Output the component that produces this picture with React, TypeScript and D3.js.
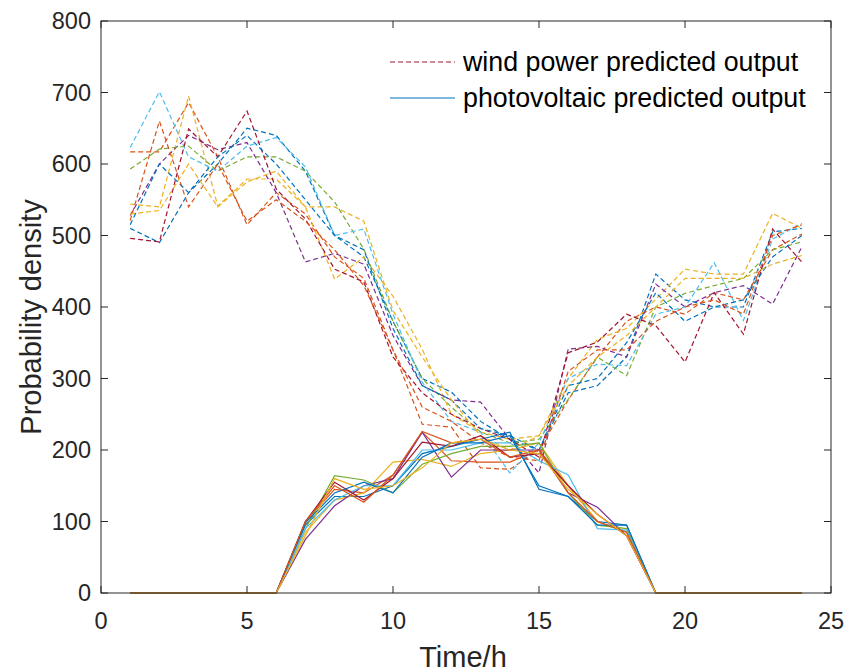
import React from "react";
import * as d3 from "d3";

const hours = d3.range(1, 25);

const colorOrder = ["#0072BD", "#D95319", "#EDB120", "#7E2F8E", "#77AC30", "#4DBEEE", "#A2142F"];

// wind power predicted output scenarios (t = 1..24)
const wind1 = [510, 490, 560, 600, 650, 640, 590, 500, 470, 380, 300, 281, 240, 215, 200, 280, 290, 330, 446, 410, 400, 400, 505, 510];
const wind2 = [617, 617, 686, 610, 515, 560, 530, 470, 440, 340, 236, 232, 175, 173, 200, 270, 330, 380, 400, 390, 420, 410, 480, 502];
const wind3 = [544, 540, 695, 541, 579, 579, 540, 439, 470, 415, 341, 250, 225, 215, 220, 300, 355, 370, 411, 453, 446, 446, 531, 510];
const wind4 = [528, 600, 640, 620, 630, 560, 463, 475, 460, 360, 290, 270, 267, 215, 168, 341, 345, 330, 432, 400, 420, 430, 404, 484];
const wind5 = [593, 621, 625, 590, 610, 610, 590, 547, 481, 380, 300, 260, 225, 210, 215, 271, 330, 304, 400, 419, 430, 440, 480, 491];
const wind6 = [623, 701, 610, 590, 625, 637, 596, 500, 509, 390, 295, 240, 225, 168, 210, 300, 320, 318, 390, 400, 462, 381, 495, 517];
const wind7 = [496, 491, 649, 610, 674, 565, 523, 453, 435, 330, 280, 250, 230, 215, 190, 336, 351, 390, 374, 323, 420, 362, 509, 463];
const wind8 = [515, 600, 560, 610, 640, 600, 550, 500, 480, 370, 290, 270, 230, 220, 200, 290, 300, 350, 420, 380, 400, 410, 470, 500];
const wind9 = [521, 660, 540, 600, 520, 550, 520, 480, 430, 340, 260, 240, 210, 190, 185, 310, 340, 340, 380, 400, 410, 390, 500, 515];
const wind10 = [530, 535, 600, 540, 575, 590, 540, 540, 520, 395, 330, 270, 220, 200, 220, 290, 330, 360, 400, 440, 440, 440, 460, 472];

// photovoltaic predicted output scenarios (t = 1..24)
const pv1 = [0, 0, 0, 0, 0, 0, 95, 135, 135, 150, 195, 205, 215, 225, 145, 135, 100, 95, 0, 0, 0, 0, 0, 0];
const pv2 = [0, 0, 0, 0, 0, 0, 100, 145, 140, 165, 225, 185, 183, 183, 200, 150, 100, 85, 0, 0, 0, 0, 0, 0];
const pv3 = [0, 0, 0, 0, 0, 0, 85, 130, 140, 183, 187, 177, 195, 200, 210, 150, 100, 85, 0, 0, 0, 0, 0, 0];
const pv4 = [0, 0, 0, 0, 0, 0, 75, 122, 150, 160, 225, 162, 200, 200, 200, 140, 120, 80, 0, 0, 0, 0, 0, 0];
const pv5 = [0, 0, 0, 0, 0, 0, 90, 164, 158, 140, 180, 195, 205, 205, 210, 140, 95, 90, 0, 0, 0, 0, 0, 0];
const pv6 = [0, 0, 0, 0, 0, 0, 90, 130, 150, 150, 200, 200, 210, 210, 185, 165, 90, 88, 0, 0, 0, 0, 0, 0];
const pv7 = [0, 0, 0, 0, 0, 0, 100, 155, 130, 160, 211, 205, 220, 190, 195, 150, 110, 80, 0, 0, 0, 0, 0, 0];
const pv8 = [0, 0, 0, 0, 0, 0, 98, 140, 155, 140, 190, 210, 210, 220, 150, 135, 95, 95, 0, 0, 0, 0, 0, 0];
const pv9 = [0, 0, 0, 0, 0, 0, 100, 150, 127, 165, 226, 210, 215, 190, 200, 140, 100, 85, 0, 0, 0, 0, 0, 0];
const pv10 = [0, 0, 0, 0, 0, 0, 80, 160, 145, 150, 175, 210, 215, 200, 195, 145, 110, 80, 0, 0, 0, 0, 0, 0];

const windSeries = [wind1, wind2, wind3, wind4, wind5, wind6, wind7, wind8, wind9, wind10];
const pvSeries = [pv1, pv2, pv3, pv4, pv5, pv6, pv7, pv8, pv9, pv10];

const xTicks = [0, 5, 10, 15, 20, 25];
const yTicks = [0, 100, 200, 300, 400, 500, 600, 700, 800];
const legendLabels = ["wind power predicted output", "photovoltaic predicted output"];

const W = 848;
const H = 672;
const left = 101;
const right = 831;
const top = 21;
const bottom = 593;
const axisColor = "#262626";
const font = "'Liberation Sans', Arial, sans-serif";

export default function App() {
  const x = d3.scaleLinear().domain([0, 25]).range([left, right]);
  const y = d3.scaleLinear().domain([0, 800]).range([bottom, top]);
  const line = d3
    .line<number>()
    .x((_, i) => x(hours[i]))
    .y((d) => y(d));
  const tickLen = 7;

  return (
    <svg
      width={W}
      height={H}
      style={{ position: "absolute", left: 0, top: 0, background: "#fff" }}
      fontFamily={font}
    >
      <rect x={0} y={0} width={W} height={H} fill="#fff" />
      <g>
        {windSeries.map((s, i) => (
          <path
            key={"w" + i}
            d={line(s) || ""}
            fill="none"
            stroke={colorOrder[i % colorOrder.length]}
            strokeWidth={1.2}
            strokeDasharray="5,3"
          />
        ))}
        {pvSeries.map((s, i) => (
          <path
            key={"p" + i}
            d={line(s) || ""}
            fill="none"
            stroke={colorOrder[i % colorOrder.length]}
            strokeWidth={1.2}
          />
        ))}
      </g>
      {/* axes box */}
      <rect
        x={left}
        y={top}
        width={right - left}
        height={bottom - top}
        fill="none"
        stroke={axisColor}
        strokeWidth={1}
      />
      {xTicks.map((t) => (
        <g key={"xt" + t}>
          <line x1={x(t)} x2={x(t)} y1={bottom} y2={bottom - tickLen} stroke={axisColor} />
          <line x1={x(t)} x2={x(t)} y1={top} y2={top + tickLen} stroke={axisColor} />
          <text x={x(t)} y={629} textAnchor="middle" fontSize={23.5} fill={axisColor}>
            {t}
          </text>
        </g>
      ))}
      {yTicks.map((t) => (
        <g key={"yt" + t}>
          <line x1={left} x2={left + tickLen} y1={y(t)} y2={y(t)} stroke={axisColor} />
          <line x1={right} x2={right - tickLen} y1={y(t)} y2={y(t)} stroke={axisColor} />
          <text x={91} y={y(t) + 8} textAnchor="end" fontSize={23.5} fill={axisColor}>
            {t}
          </text>
        </g>
      ))}
      <text x={463} y={667} textAnchor="middle" fontSize={29} fill={axisColor}>
        Time/h
      </text>
      <text
        transform={`translate(41,${(top + bottom) / 2 + 10}) rotate(-90)`}
        textAnchor="middle"
        fontSize={29}
        fill={axisColor}
      >
        Probability density
      </text>
      {/* legend */}
      <g>
        <line x1={390} x2={455} y1={62} y2={62} stroke="#A2142F" strokeWidth={1.2} strokeDasharray="5,3" />
        <text x={463} y={71} fontSize={26.8} fill="#000">
          {legendLabels[0]}
        </text>
        <line x1={390} x2={455} y1={98} y2={98} stroke="#0072BD" strokeWidth={1.2} />
        <text x={463} y={107} fontSize={26.8} fill="#000">
          {legendLabels[1]}
        </text>
      </g>
    </svg>
  );
}
